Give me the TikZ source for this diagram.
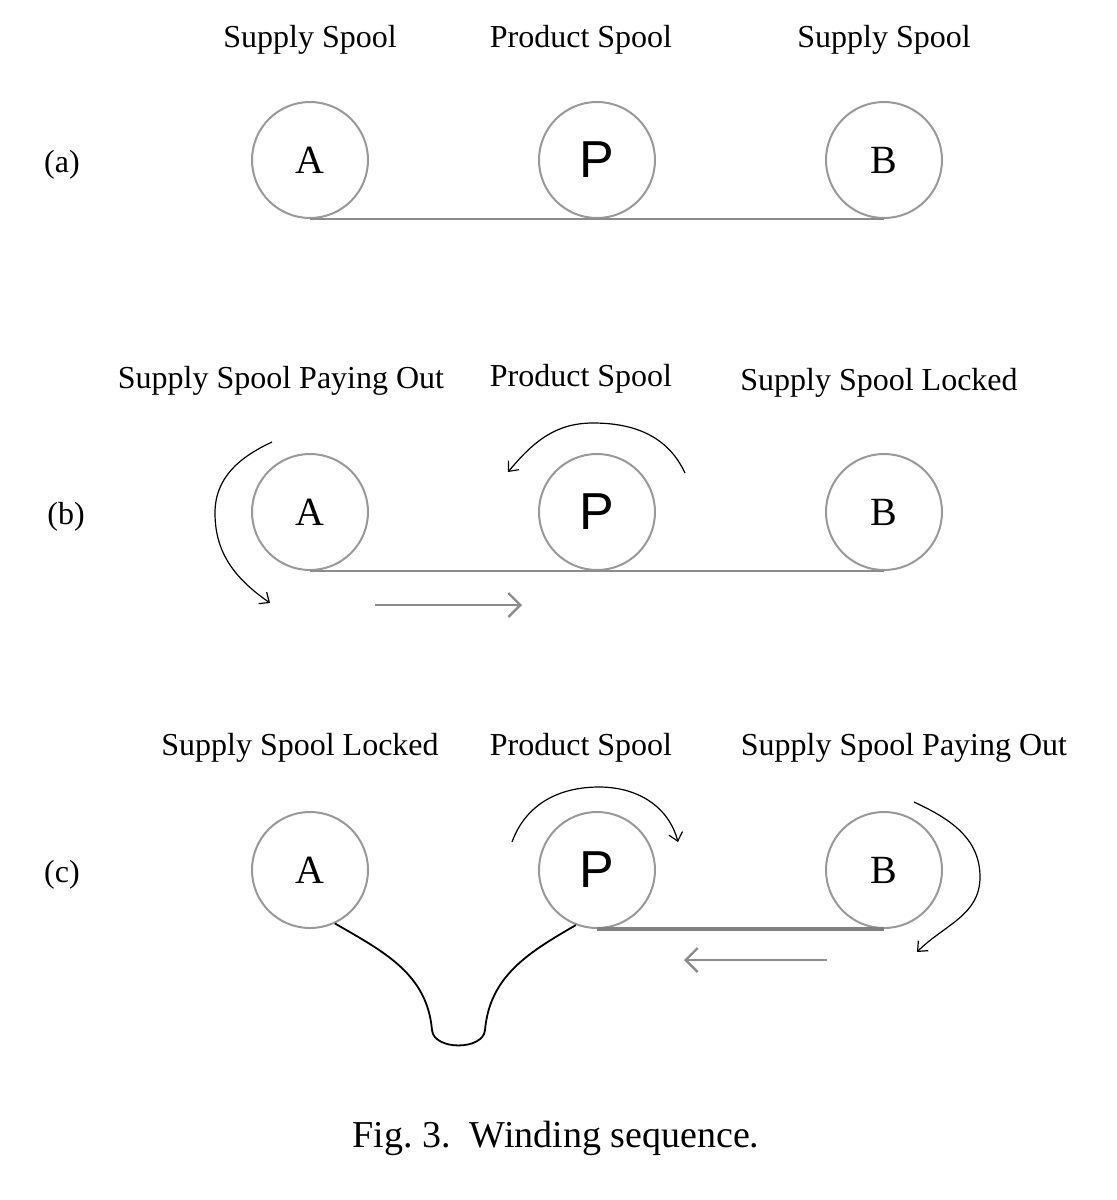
\documentclass[tikz,border=0pt]{standalone}
\usepackage{fontspec}
\setmainfont{Liberation Serif}
\newfontfamily\spoolsans{Liberation Sans}
\usetikzlibrary{arrows.meta}

\begin{document}
\begin{tikzpicture}[x=0.5pt,y=0.5pt,
    spool/.style = {shape=circle, draw=black!40, line width=1pt,
        minimum size=58pt, inner sep=0pt, font=\fontsize{20}{24}\selectfont},
    product/.style = {spool, font=\spoolsans\fontsize{26}{30}\selectfont},
    tag/.style = {font=\fontsize{16}{19}\selectfont},
    tape/.style = {draw=black!45, line width=1pt},
    turn/.style = {draw=black, line width=0.6pt, -{Straight Barb[length=4pt,width=7pt]}},
    feed/.style = {draw=black!45, line width=1.2pt, -{Straight Barb[length=6pt,width=12pt]}},
    sag/.style = {draw=black, line width=0.9pt}]
    \useasboundingbox (0,0) rectangle (1117,-1200);

    % (a)
    \node[tag] (ra) at (62,-165) {(a)};
    \node[tag] (ta1) at (310,-40) {Supply Spool};
    \node[tag] (ta2) at (581,-40) {Product Spool};
    \node[tag] (ta3) at (884,-40) {Supply Spool};
    \node[spool] (A1) at (310,-160) {A};
    \node[product] (P1) at (597,-160) {P};
    \node[spool] (B1) at (884,-160) {B};
    \draw[tape] (A1.south) -- (B1.south);

    % (b)
    \node[tag] (rb) at (66,-517) {(b)};
    \node[tag] (tb1) at (281,-381) {Supply Spool Paying Out};
    \node[tag] (tb2) at (581,-379) {Product Spool};
    \node[tag] (tb3) at (879,-383) {Supply Spool Locked};
    \node[spool] (A2) at (310,-512) {A};
    \node[product] (P2) at (597,-512) {P};
    \node[spool] (B2) at (884,-512) {B};
    \draw[tape] (A2.south) -- (B2.south);
    \coordinate (fb1) at (375,-605);
    \coordinate (fb2) at (522,-605);
    \draw[feed] (fb1) -- (fb2);
    \draw[turn] (272,-442) to[out=205,in=90] (215,-513) to[out=-90,in=145] (270,-603);
    \draw[turn] (685,-473) to[out=115,in=0] (593,-423) to[out=180,in=50] (508,-472);

    % (c)
    \node[tag] (rc) at (62,-875) {(c)};
    \node[tag] (tc1) at (300,-748) {Supply Spool Locked};
    \node[tag] (tc2) at (581,-748) {Product Spool};
    \node[tag] (tc3) at (904,-748) {Supply Spool Paying Out};
    \node[spool] (A3) at (310,-870) {A};
    \node[product] (P3) at (597,-870) {P};
    \node[spool] (B3) at (884,-870) {B};
    \draw[tape, line width=2pt, draw=black!50] (P3.south) -- (B3.south);
    \coordinate (fc1) at (827,-960);
    \coordinate (fc2) at (684,-960);
    \draw[feed] (fc1) -- (fc2);
    \draw[turn] (512,-842) to[out=70,in=180] (599,-787) to[out=0,in=105] (678,-842);
    \draw[turn] (914,-802) to[out=-25,in=90] (980,-877) to[out=-90,in=45] (917,-952);
    \coordinate (sagL) at (432,-1030);
    \coordinate (sagR) at (485,-1030);
    \draw[sag] (A3.-65) to[out=-30,in=95] (sagL) to[out=-85,in=-95] (sagR)
        to[out=85,in=-150] (P3.-111);

    \node[font=\fontsize{19}{23}\selectfont] (cap) at (556,-1138) {Fig.~3.\enspace Winding sequence.};
\end{tikzpicture}
\end{document}
